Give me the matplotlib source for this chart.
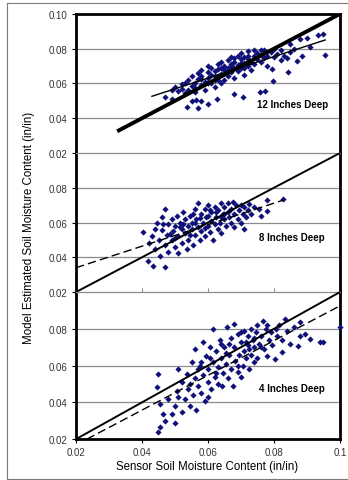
import numpy as np
import matplotlib
matplotlib.use("Agg")
import matplotlib.pyplot as plt
from matplotlib.lines import Line2D

plt.rcParams['font.family'] = ['Liberation Sans', 'DejaVu Sans']

# ---- data (in/in) ----
# 12 inches deep
x12 = [0.047, 0.049, 0.0535, 0.055, 0.0565, 0.058, 0.057, 0.060, 0.0627, 0.068,
       0.0705, 0.0758, 0.0773, 0.0797, 0.0842, 0.087, 0.0885, 0.0955, 0.0848, 0.088,
       0.090, 0.0933, 0.0948, 0.0794, 0.049, 0.050, 0.051, 0.052, 0.052, 0.053,
       0.054, 0.054, 0.055, 0.055, 0.056, 0.056, 0.057, 0.057, 0.058, 0.058,
       0.058, 0.059, 0.059, 0.060, 0.060, 0.060, 0.061, 0.061, 0.061, 0.062,
       0.062, 0.062, 0.063, 0.063, 0.063, 0.064, 0.064, 0.064, 0.065, 0.065,
       0.065, 0.066, 0.066, 0.066, 0.067, 0.067, 0.067, 0.068, 0.068, 0.068,
       0.069, 0.069, 0.069, 0.070, 0.070, 0.070, 0.071, 0.071, 0.071, 0.072,
       0.072, 0.072, 0.073, 0.073, 0.074, 0.074, 0.074, 0.075, 0.075, 0.076,
       0.076, 0.077, 0.077, 0.078, 0.078, 0.079, 0.080, 0.080, 0.081, 0.082,
       0.083, 0.085, 0.086, 0.091, 0.058, 0.062, 0.066, 0.070, 0.064, 0.068,
       0.060, 0.072, 0.053, 0.056, 0.076, 0.082, 0.084, 0.063, 0.067, 0.071]
y12 = [0.0520, 0.0510, 0.0462, 0.0500, 0.0505, 0.0500, 0.0460, 0.0480, 0.0510, 0.0538,
       0.0522, 0.0550, 0.0555, 0.0613, 0.0665, 0.0728, 0.0757, 0.0763, 0.0827, 0.0855,
       0.0860, 0.0879, 0.0884, 0.0682, 0.0565, 0.0580, 0.0555, 0.0595, 0.0570, 0.0600,
       0.0560, 0.0620, 0.0585, 0.0640, 0.0605, 0.0550, 0.0625, 0.0660, 0.0590, 0.0645,
       0.0680, 0.0610, 0.0565, 0.0630, 0.0665, 0.0700, 0.0600, 0.0650, 0.0690, 0.0620,
       0.0670, 0.0580, 0.0640, 0.0710, 0.0685, 0.0655, 0.0600, 0.0725, 0.0675, 0.0700,
       0.0620, 0.0690, 0.0735, 0.0645, 0.0710, 0.0665, 0.0750, 0.0690, 0.0725, 0.0630,
       0.0705, 0.0760, 0.0670, 0.0740, 0.0690, 0.0775, 0.0720, 0.0650, 0.0755, 0.0700,
       0.0740, 0.0785, 0.0725, 0.0680, 0.0760, 0.0710, 0.0790, 0.0740, 0.0775, 0.0725,
       0.0765, 0.0745, 0.0790, 0.0760, 0.0700, 0.0780, 0.0755, 0.0800, 0.0770, 0.0790,
       0.0760, 0.0780, 0.0800, 0.0810, 0.0625, 0.0645, 0.0670, 0.0715, 0.0690, 0.0745,
       0.0600, 0.0760, 0.0545, 0.0575, 0.0795, 0.0735, 0.0745, 0.0620, 0.0700, 0.0690]

# 8 inches deep
x8 = [0.0403, 0.0418, 0.0433, 0.0470, 0.0470, 0.0420, 0.0430, 0.0440, 0.0445, 0.0450,
      0.0455, 0.0460, 0.0460, 0.0470, 0.0475, 0.0480, 0.0480, 0.0490, 0.0490, 0.0495,
      0.0500, 0.0500, 0.0505, 0.0510, 0.0510, 0.0515, 0.0520, 0.0520, 0.0525, 0.0530,
      0.0530, 0.0535, 0.0540, 0.0540, 0.0545, 0.0550, 0.0550, 0.0555, 0.0560, 0.0560,
      0.0565, 0.0570, 0.0570, 0.0575, 0.0580, 0.0580, 0.0585, 0.0590, 0.0590, 0.0595,
      0.0600, 0.0600, 0.0605, 0.0610, 0.0610, 0.0615, 0.0620, 0.0620, 0.0625, 0.0630,
      0.0630, 0.0635, 0.0640, 0.0640, 0.0645, 0.0650, 0.0650, 0.0655, 0.0660, 0.0660,
      0.0665, 0.0670, 0.0670, 0.0675, 0.0680, 0.0680, 0.0685, 0.0690, 0.0695, 0.0700,
      0.0700, 0.0705, 0.0710, 0.0710, 0.0715, 0.0720, 0.0725, 0.0730, 0.0740, 0.0755,
      0.0760, 0.0778, 0.0780, 0.0827, 0.0440, 0.0465, 0.0500, 0.0525, 0.0555, 0.0575,
      0.0600, 0.0625, 0.0650, 0.0545, 0.0590, 0.0640, 0.0485, 0.0515, 0.0560, 0.0605]
y8 = [0.0546, 0.0379, 0.0350, 0.0345, 0.0678, 0.0480, 0.0520, 0.0445, 0.0600, 0.0500,
      0.0410, 0.0555, 0.0630, 0.0470, 0.0530, 0.0590, 0.0430, 0.0500, 0.0620, 0.0550,
      0.0460, 0.0580, 0.0640, 0.0520, 0.0425, 0.0600, 0.0560, 0.0480, 0.0660, 0.0540,
      0.0620, 0.0445, 0.0580, 0.0500, 0.0640, 0.0560, 0.0600, 0.0470, 0.0530, 0.0680,
      0.0620, 0.0715, 0.0575, 0.0500, 0.0650, 0.0550, 0.0600, 0.0680, 0.0520, 0.0630,
      0.0580, 0.0700, 0.0545, 0.0610, 0.0660, 0.0500, 0.0590, 0.0690, 0.0630, 0.0560,
      0.0670, 0.0600, 0.0710, 0.0540, 0.0650, 0.0620, 0.0690, 0.0580, 0.0660, 0.0710,
      0.0630, 0.0600, 0.0680, 0.0720, 0.0650, 0.0575, 0.0700, 0.0620, 0.0670, 0.0700,
      0.0600, 0.0650, 0.0560, 0.0690, 0.0630, 0.0670, 0.0705, 0.0650, 0.0690, 0.0680,
      0.0640, 0.0730, 0.0667, 0.0736, 0.0560, 0.0590, 0.0510, 0.0590, 0.0650, 0.0625,
      0.0640, 0.0660, 0.0650, 0.0530, 0.0570, 0.0630, 0.0535, 0.0575, 0.0595, 0.0670]

# 4 inches deep
x4 = [0.0448, 0.0455, 0.0448, 0.0445, 0.0464, 0.0470, 0.0500, 0.0455, 0.0490, 0.0480,
      0.0500, 0.0505, 0.0509, 0.0520, 0.0520, 0.0530, 0.0535, 0.0540, 0.0545, 0.0550,
      0.0555, 0.0560, 0.0560, 0.0565, 0.0570, 0.0575, 0.0580, 0.0585, 0.0585, 0.0590,
      0.0595, 0.0600, 0.0600, 0.0605, 0.0610, 0.0615, 0.0615, 0.0620, 0.0625, 0.0630,
      0.0630, 0.0635, 0.0640, 0.0642, 0.0645, 0.0650, 0.0655, 0.0657, 0.0660, 0.0665,
      0.0670, 0.0670, 0.0676, 0.0680, 0.0680, 0.0682, 0.0690, 0.0690, 0.0695, 0.0700,
      0.0700, 0.0705, 0.0710, 0.0710, 0.0715, 0.0720, 0.0720, 0.0725, 0.0730, 0.0730,
      0.0735, 0.0740, 0.0745, 0.0750, 0.0750, 0.0755, 0.0760, 0.0767, 0.0770, 0.0775,
      0.0779, 0.0785, 0.0790, 0.0795, 0.0803, 0.0805, 0.0810, 0.0815, 0.0824, 0.0825,
      0.0833, 0.0840, 0.0850, 0.0860, 0.0873, 0.0879, 0.0880, 0.0894, 0.0909, 0.0940,
      0.0948, 0.1000, 0.0580, 0.0625, 0.0665, 0.0690, 0.0715, 0.0740, 0.0760, 0.0655,
      0.0605, 0.0545, 0.0700, 0.0780, 0.0740, 0.0640, 0.0510, 0.0570, 0.0600, 0.0725]
y4 = [0.0237, 0.0264, 0.0553, 0.0482, 0.0335, 0.0297, 0.0290, 0.0390, 0.0335, 0.0420,
      0.0380, 0.0460, 0.0580, 0.0350, 0.0510, 0.0420, 0.0555, 0.0470, 0.0380, 0.0620,
      0.0440, 0.0530, 0.0690, 0.0360, 0.0490, 0.0600, 0.0450, 0.0727, 0.0550, 0.0406,
      0.0650, 0.0510, 0.0580, 0.0700, 0.0470, 0.0800, 0.0620, 0.0540, 0.0680, 0.0590,
      0.0500, 0.0740, 0.0640, 0.0488, 0.0560, 0.0700, 0.0610, 0.0810, 0.0530, 0.0660,
      0.0750, 0.0580, 0.0488, 0.0826, 0.0700, 0.0624, 0.0564, 0.0770, 0.0660, 0.0537,
      0.0730, 0.0600, 0.0790, 0.0680, 0.0640, 0.0760, 0.0710, 0.0580, 0.0800, 0.0660,
      0.0740, 0.0700, 0.0780, 0.0640, 0.0820, 0.0720, 0.0760, 0.0842, 0.0690, 0.0800,
      0.0650, 0.0740, 0.0780, 0.0710, 0.0635, 0.0800, 0.0760, 0.0820, 0.0673, 0.0740,
      0.0853, 0.0790, 0.0720, 0.0810, 0.0706, 0.0836, 0.0760, 0.0771, 0.0744, 0.0728,
      0.0728, 0.0810, 0.0620, 0.0560, 0.0720, 0.0600, 0.0730, 0.0750, 0.0700, 0.0670,
      0.0640, 0.0500, 0.0780, 0.0820, 0.0620, 0.0720, 0.0430, 0.0580, 0.0430, 0.0690]

# 1:1 lines and fitted lines (end points)
one_x12 = [0.033, 0.100]
fit_x12, fit_y12 = [0.043, 0.0955], [0.0526, 0.0850]
one_x8 = [0.020, 0.100]
fit_x8, fit_y8 = [0.020, 0.083], [0.034, 0.073]
one_x4 = [0.020, 0.100]
fit_x4, fit_y4 = [0.0233, 0.100], [0.020, 0.0925]

labels = ["12 Inches Deep", "8 Inches Deep", "4 Inches Deep"]
label_pos = [(0.0855, 0.0483), (0.0855, 0.0517), (0.0855, 0.0480)]
xticks = [0.02, 0.04, 0.06, 0.08, 0.10]
xticklabels = ["0.02", "0.04", "0.06", "0.08", "0.1"]

navy = "#10107a"
grid_c = "#8c8c8c"

fig = plt.figure(figsize=(3.48, 4.81), dpi=100)
gs = fig.add_gridspec(3, 1, height_ratios=[139, 139, 147], hspace=0,
                      left=0.2184, right=0.977, top=0.969, bottom=0.085)
axs = [fig.add_subplot(gs[i]) for i in range(3)]

series = [(x12, y12, one_x12, fit_x12, fit_y12, "-"),
          (x8, y8, one_x8, fit_x8, fit_y8, (0, (6, 3))),
          (x4, y4, one_x4, fit_x4, fit_y4, (0, (6, 3)))]

for i, (ax, (xs, ys, ox, fx, fy, fls)) in enumerate(zip(axs, series)):
    ax.set_xlim(0.02, 0.10)
    ax.set_ylim(0.02, 0.10)
    for g in [0.04, 0.06, 0.08]:
        ax.axhline(g, color=grid_c, lw=0.9, zorder=0)
    ax.scatter(xs, ys, marker="D", s=10, color=navy, linewidths=0, zorder=3, clip_on=False)
    ax.plot(ox, ox, color="black", lw=2.8 if i == 0 else 1.4, zorder=4)
    ax.plot(fx, fy, color="black", lw=1.0, ls=fls, zorder=4)
    ax.text(label_pos[i][0], label_pos[i][1], labels[i], fontsize=7, fontweight="bold",
            ha="center", va="center", zorder=5)

    for s in ["left", "right"]:
        ax.spines[s].set_linewidth(2)
        ax.spines[s].set_color("black")
    ax.spines["top"].set_linewidth(2 if i == 0 else 0.9)
    ax.spines["top"].set_color("black" if i == 0 else grid_c)
    ax.spines["bottom"].set_visible(i == 2)
    ax.spines["bottom"].set_linewidth(2)

    if i == 0:
        yt = [0.02, 0.04, 0.06, 0.08, 0.10]
    else:
        yt = [0.02, 0.04, 0.06, 0.08]
    ax.set_yticks(yt)
    ax.set_yticklabels(["%.2f" % v for v in yt])
    ax.tick_params(axis="y", direction="out", length=3, width=0.8, pad=3,
                   labelsize=7, labelcolor="#333333")
    ax.set_xticks(xticks)
    if i == 2:
        ax.set_xticklabels(xticklabels)
        ax.tick_params(axis="x", direction="out", length=3, width=0.8, pad=3,
                       labelsize=7, labelcolor="#333333")
    elif i == 1:
        ax.tick_params(axis="x", direction="in", length=3, width=0.7, color=grid_c,
                       labelbottom=False)
    else:
        ax.tick_params(axis="x", length=0, labelbottom=False)

fig.text(0.596, 0.029, "Sensor Soil Moisture Content (in/in)", ha="center", va="center",
         fontsize=8.3)
fig.text(0.082, 0.527, "Model Estimated Soil Moisture Content (in/in)", ha="center",
         va="center", rotation=90, fontsize=8.3)

# thin grey frame around the figure
frame_c = "#7a7a7a"
fig.add_artist(Line2D([0.019, 0.019], [0.002, 0.992], color=frame_c, lw=0.8))
fig.add_artist(Line2D([0.019, 1.0], [0.992, 0.992], color=frame_c, lw=0.8))
fig.add_artist(Line2D([0.019, 1.0], [0.002, 0.002], color=frame_c, lw=0.8))

fig.savefig("out.png", dpi=100)
